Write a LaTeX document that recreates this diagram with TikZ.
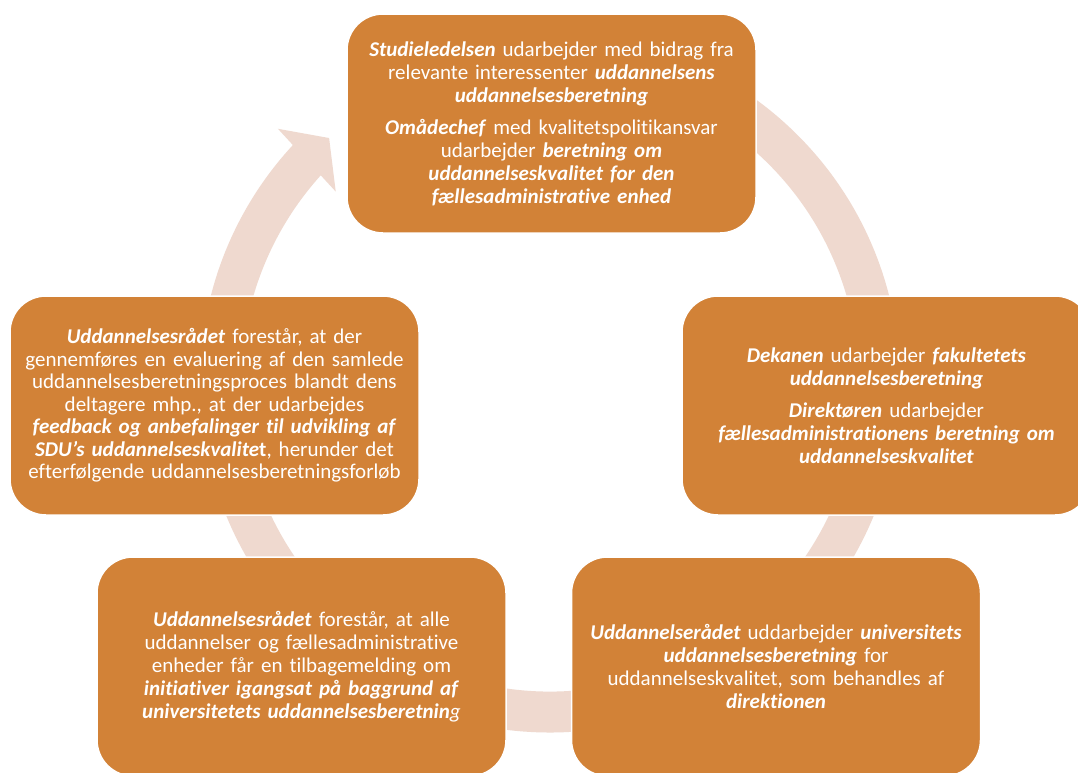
\documentclass[tikz,border=0pt]{standalone}
\usepackage{fontspec}
\setmainfont{Carlito}[Ligatures={NoCommon}, RawFeature={-liga;-clig;-dlig}]
\definecolor{boxorange}{RGB}{210,130,55}
\definecolor{ringpink}{RGB}{239,217,207}
\tikzset{
 stagebox/.style={fill=boxorange, draw=white, line width=1.5pt, rounded corners=36pt,
   minimum width=409pt, minimum height=219pt, text width=402pt, align=center,
   text=white, font=\fontsize{21}{23}\selectfont, inner sep=0pt},
 ringpart/.style={fill=ringpink, draw=none}
}
\newcommand{\bi}[1]{\textbf{\textit{#1}}}
\begin{document}
\begin{tikzpicture}[x=1pt,y=1pt]
\useasboundingbox (0,0) rectangle (1078,-772);
\clip (0,0) rectangle (1078,-772);
\fill[white] (0,0) rectangle (1078,-772);
% circular arrow
\begin{scope}[shift={(550pt,-382.5pt)}]
\fill[ringpart] (137:350pt) arc[start angle=137, end angle=467.5, radius=350pt]
   -- (467.5:309pt) arc[start angle=467.5, end angle=137, radius=309pt] -- cycle;
\fill[ringpart] (137.0:372pt) -- (132.1:329.5pt) -- (138.3:287pt) -- cycle;
\end{scope}
% boxes
\node[stagebox] (top) at (551.5,-123.5) {\bi{Studieledelsen} udarbejder med bidrag fra\\
 relevante interessenter \bi{uddannelsens}\\
 \bi{uddannelsesberetning}\\[9pt]
 \bi{Omådechef} med kvalitetspolitikansvar\\
 udarbejder \bi{beretning om}\\
 \bi{uddannelseskvalitet for den}\\
 \bi{fællesadministrative enhed}};
\node[stagebox, font=\fontsize{21}{22.5}\selectfont] (left) at (214.5,-405.5) {\bi{Uddannelsesrådet} forestår, at der\\
 gennemføres en evaluering af den samlede\\
 uddannelsesberetningsproces blandt dens\\
 deltagere mhp., at der udarbejdes\\
 \bi{feedback og anbefalinger til udvikling af}\\
 \bi{SDU’s uddannelseskvalite}\textbf{t}, herunder det\\
 efterfølgende uddannelsesberetningsforløb};
\node[stagebox] (right) at (886.5,-405.5) {\bi{Dekanen} udarbejder \bi{fakultetets}\\
 \bi{uddannelsesberetning}\\[9pt]
 \bi{Direktøren} udarbejder\\
 \bi{fællesadministrationens beretning om}\\
 \bi{uddannelseskvalitet}};
\node[stagebox] (botleft) at (301.5,-666.5) {\bi{Uddannelsesrådet} forestår, at alle\\
 uddannelser og fællesadministrative\\
 enheder får en tilbagemelding om\\
 \bi{initiativer igangsat på baggrund af}\\
 \bi{universitetets uddannelsesberetnin}\textit{g}};
\node[stagebox] (botright) at (776,-666.5) {\bi{Uddannelserådet} uddarbejder \bi{universitets}\\
 \bi{uddannelsesberetning} for\\
 uddannelseskvalitet, som behandles af\\
 \bi{direktionen}};
\end{tikzpicture}
\end{document}
